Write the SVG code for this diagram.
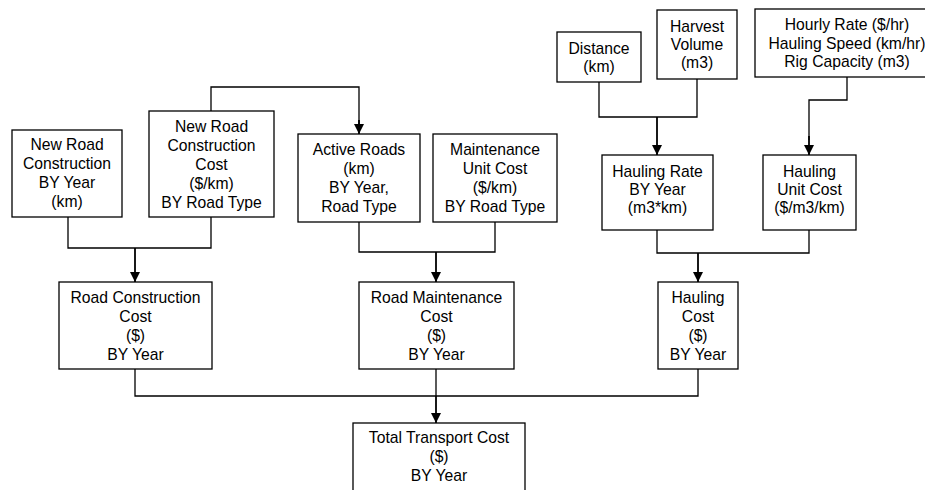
<svg xmlns="http://www.w3.org/2000/svg" width="925" height="490" viewBox="0 0 925 490">
<defs>
<marker id="arr" viewBox="0 0 10 10" refX="10" refY="5" markerWidth="10" markerHeight="10" markerUnits="userSpaceOnUse" orient="auto">
<path d="M0,0 L10,5 L0,10 Z" fill="#000"/>
</marker>
</defs>
<style>
rect{fill:#fff;stroke:#000;stroke-width:1.3}
text{font-family:"Liberation Sans",Arial,sans-serif;font-size:15.7px;fill:#000;text-anchor:middle}
.c{fill:none;stroke:#000;stroke-width:1.3}
.a{fill:none;stroke:#000;stroke-width:1.8;marker-end:url(#arr)}
</style>
<rect x="0" y="0" width="925" height="490" style="fill:#fff;stroke:none"/>
<g id="connectors">
<polyline class="c" points="68,217 68,248 211,248 211,217"/>
<line class="a" x1="135" y1="248" x2="135" y2="282"/>
<polyline class="c" points="211,111 211,87 359,87 359,124"/>
<line class="a" x1="359" y1="120" x2="359" y2="134"/>
<polyline class="c" points="359,222 359,252 495,252 495,222"/>
<line class="a" x1="436" y1="252" x2="436" y2="282"/>
<polyline class="c" points="599,82 599,117 697,117 697,79"/>
<line class="a" x1="657" y1="117" x2="657" y2="155"/>
<polyline class="c" points="847,77 847,100 809,100 809,140"/>
<line class="a" x1="809" y1="136" x2="809" y2="155"/>
<polyline class="c" points="657,230 657,253 809,253 809,230"/>
<line class="a" x1="698" y1="253" x2="698" y2="282"/>
<polyline class="c" points="135,369 135,396 698,396 698,369"/>
<line class="c" x1="436" y1="369" x2="436" y2="396"/>
<line class="a" x1="436" y1="396" x2="436" y2="423"/>
</g>
<g id="new-road-construction">
<rect x="12" y="130" width="110" height="87"/>
<text x="67" y="150">New Road</text>
<text x="67" y="169">Construction</text>
<text x="67" y="188">BY Year</text>
<text x="67" y="207">(km)</text>
</g>
<g id="new-road-construction-cost">
<rect x="149" y="111" width="125" height="106"/>
<text x="211.5" y="132">New Road</text>
<text x="211.5" y="151">Construction</text>
<text x="211.5" y="170">Cost</text>
<text x="211.5" y="189">($/km)</text>
<text x="211.5" y="208">BY Road Type</text>
</g>
<g id="active-roads">
<rect x="298" y="134" width="122" height="88"/>
<text x="359" y="155">Active Roads</text>
<text x="359" y="174">(km)</text>
<text x="359" y="193">BY Year,</text>
<text x="359" y="212">Road Type</text>
</g>
<g id="maintenance-unit-cost">
<rect x="433" y="134" width="124" height="88"/>
<text x="495" y="155">Maintenance</text>
<text x="495" y="174">Unit Cost</text>
<text x="495" y="193">($/km)</text>
<text x="495" y="212">BY Road Type</text>
</g>
<g id="distance">
<rect x="557" y="32" width="84" height="50"/>
<text x="599" y="54">Distance</text>
<text x="599" y="72">(km)</text>
</g>
<g id="harvest-volume">
<rect x="657" y="10" width="80" height="69"/>
<text x="697" y="32">Harvest</text>
<text x="697" y="50">Volume</text>
<text x="697" y="68">(m3)</text>
</g>
<g id="hauling-params">
<rect x="755" y="9" width="185" height="68"/>
<text x="847" y="30">Hourly Rate ($/hr)</text>
<text x="847" y="48.5">Hauling Speed (km/hr)</text>
<text x="847" y="67">Rig Capacity (m3)</text>
</g>
<g id="hauling-rate">
<rect x="602" y="155" width="111" height="75"/>
<text x="657.5" y="177">Hauling Rate</text>
<text x="657.5" y="195">BY Year</text>
<text x="657.5" y="213">(m3*km)</text>
</g>
<g id="hauling-unit-cost">
<rect x="763" y="155" width="93" height="75"/>
<text x="809.5" y="177">Hauling</text>
<text x="809.5" y="195">Unit Cost</text>
<text x="809.5" y="213">($/m3/km)</text>
</g>
<g id="road-construction-cost">
<rect x="59" y="282" width="153" height="87"/>
<text x="135.5" y="303">Road Construction</text>
<text x="135.5" y="322">Cost</text>
<text x="135.5" y="341">($)</text>
<text x="135.5" y="360">BY Year</text>
</g>
<g id="road-maintenance-cost">
<rect x="359" y="282" width="155" height="87"/>
<text x="436.5" y="303">Road Maintenance</text>
<text x="436.5" y="322">Cost</text>
<text x="436.5" y="341">($)</text>
<text x="436.5" y="360">BY Year</text>
</g>
<g id="hauling-cost">
<rect x="658" y="282" width="80" height="87"/>
<text x="698" y="303">Hauling</text>
<text x="698" y="322">Cost</text>
<text x="698" y="341">($)</text>
<text x="698" y="360">BY Year</text>
</g>
<g id="total-transport-cost">
<rect x="353" y="423" width="172" height="80"/>
<text x="439" y="443">Total Transport Cost</text>
<text x="439" y="462">($)</text>
<text x="439" y="481">BY Year</text>
</g>
</svg>
